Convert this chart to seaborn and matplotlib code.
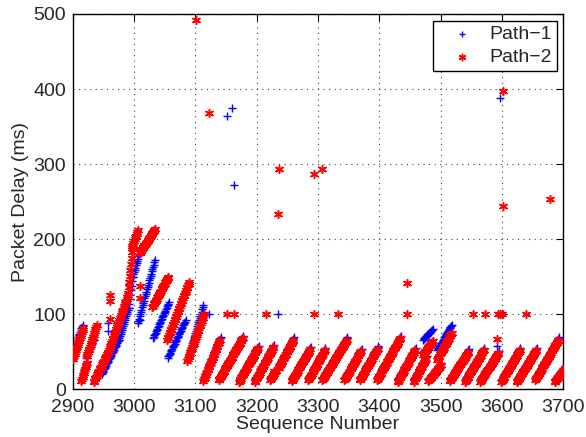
import numpy as np
import pandas as pd
import matplotlib
matplotlib.use("Agg")
import matplotlib.pyplot as plt
import seaborn as sns

# ---------------- data ----------------
# Path-1 (blue) queue ramps: start seq, end seq, start delay, end delay (ms)
p1_seq0 = [2900, 2915, 2921, 2947, 2975, 2991, 2998, 3006, 3031, 3055, 3089,
           3113, 3138, 3171, 3197, 3236, 3257, 3284, 3307, 3343, 3368, 3396,
           3430, 3456, 3471, 3480, 3494, 3515, 3540, 3564, 3599, 3624, 3654, 3686]
p1_seq1 = [2916, 2923, 2934, 2975, 2991, 2998, 3008, 3034, 3057, 3084, 3113,
           3141, 3178, 3203, 3228, 3261, 3288, 3312, 3348, 3371, 3398, 3435,
           3459, 3477, 3487, 3501, 3518, 3546, 3571, 3595, 3630, 3657, 3693, 3703]
p1_d0 = [48, 14, 42, 20, 66, 108, 150, 88, 68, 42, 44,
         14, 15, 13, 13, 32, 14, 15, 15, 15, 15, 15,
         13, 13, 66, 14, 52, 14, 13, 13, 13, 13, 15, 13]
p1_d1 = [86, 36, 66, 66, 108, 150, 180, 172, 116, 92, 112,
         69, 71, 58, 59, 69, 56, 55, 69, 54, 57, 71,
         55, 44, 80, 35, 86, 53, 55, 51, 55, 55, 69, 31]

# Path-2 (red) queue ramps
p2_seq0 = [2900, 2914, 2923, 2934, 2958, 2990, 2996, 3009, 3030, 3054, 3087,
           3113, 3138, 3171, 3197, 3222, 3236, 3257, 3284, 3307, 3343, 3368,
           3396, 3430, 3456, 3471, 3480, 3494, 3515, 3540, 3564, 3599, 3624,
           3654, 3686]
p2_seq1 = [2917, 2923, 2939, 2958, 2990, 2998, 3006, 3034, 3056, 3090, 3114,
           3140, 3177, 3202, 3227, 3232, 3260, 3287, 3311, 3347, 3370, 3397,
           3434, 3458, 3476, 3487, 3500, 3518, 3545, 3570, 3594, 3629, 3656,
           3692, 3703]
p2_d0 = [40, 11, 44, 10, 50, 128, 188, 181, 110, 66, 38,
         11, 12, 10, 10, 12, 29, 11, 12, 12, 12, 12,
         12, 10, 10, 46, 11, 39, 11, 10, 10, 10, 10,
         12, 10]
p2_d1 = [81, 35, 85, 50, 125, 190, 212, 214, 150, 143, 100,
         66, 68, 55, 56, 25, 66, 53, 52, 66, 51, 54,
         68, 52, 41, 64, 32, 75, 50, 52, 48, 52, 52,
         66, 28]

# isolated packets
p1_out_seq = [2958, 2958, 3010, 3122, 3152, 3160, 3163, 3229, 3235, 3592, 3596, 3602]
p1_out_delay = [88, 77, 92, 100, 364, 375, 272, 22, 100, 58, 388, 100]
p2_out_seq = [2960, 2961, 2961, 3009, 3010, 3101, 3122, 3151, 3163, 3215, 3228,
              3235, 3237, 3293, 3294, 3307, 3333, 3445, 3445, 3553, 3573, 3592,
              3594, 3597, 3600, 3601, 3602, 3639, 3678]
p2_out_delay = [93, 117, 126, 121, 137, 492, 368, 100, 100, 100, 24,
                233, 293, 287, 100, 293, 100, 141, 100, 100, 100, 67,
                100, 100, 100, 244, 398, 100, 254]

x_ticks = [2900, 3000, 3100, 3200, 3300, 3400, 3500, 3600, 3700]
y_ticks = [0, 100, 200, 300, 400, 500]
path_names = ["Path\u22121", "Path\u22122"]


def expand(s0, s1, d0, d1, oseq, odel):
    xs, ys = [], []
    for a, b, c, d in zip(s0, s1, d0, d1):
        seq = np.arange(a, b + 1)
        xs.append(seq)
        ys.append(np.linspace(c, d, len(seq)))
    xs.append(np.array(oseq))
    ys.append(np.array(odel, dtype=float))
    return np.concatenate(xs), np.concatenate(ys)


x1, y1 = expand(p1_seq0, p1_seq1, p1_d0, p1_d1, p1_out_seq, p1_out_delay)
x2, y2 = expand(p2_seq0, p2_seq1, p2_d0, p2_d1, p2_out_seq, p2_out_delay)
df1 = pd.DataFrame({"seq": x1, "delay": y1})
df2 = pd.DataFrame({"seq": x2, "delay": y2})

# ---------------- plotting ----------------
sns.set_style("white")
plt.rcParams["font.family"] = ["Liberation Sans", "DejaVu Sans"]

fig = plt.figure(figsize=(5.86, 4.37), dpi=100)
ax = fig.add_axes([0.1241, 0.1092, 0.8372, 0.8588])

sns.scatterplot(data=df1, x="seq", y="delay", ax=ax, marker="+", color="#0000ff",
                s=38, linewidth=1.0, label=path_names[0], zorder=3)
sns.scatterplot(data=df2, x="seq", y="delay", ax=ax, marker=(6, 2, 0), color="#ff0000",
                s=32, linewidth=1.1, label=path_names[1], zorder=4)

ax.set_xlim(2900, 3700)
ax.set_ylim(0, 500)
ax.set_xticks(x_ticks)
ax.set_yticks(y_ticks)
ax.set_xlabel("Sequence Number", fontsize=14, labelpad=0)
ax.set_ylabel("Packet Delay (ms)", fontsize=14, labelpad=3)
ax.tick_params(axis="both", which="major", labelsize=14, direction="in",
               length=5, width=0.8, top=True, right=True, color="black")
ax.tick_params(axis="x", pad=7)
ax.tick_params(axis="y", pad=5)
ax.grid(True, color="0.25", linestyle=(0, (1, 4)), linewidth=0.8)
ax.set_axisbelow(True)
for sp in ax.spines.values():
    sp.set_color("black")
    sp.set_linewidth(1.0)

leg = ax.legend(loc="upper right", fontsize=14, frameon=True, fancybox=False,
                edgecolor="black", framealpha=1, borderaxespad=0.35,
                handletextpad=0.15, borderpad=0.25, labelspacing=0.25,
                markerscale=0.8, handlelength=2.5)
leg.get_frame().set_linewidth(1.0)

fig.savefig("out.png", dpi=100)
